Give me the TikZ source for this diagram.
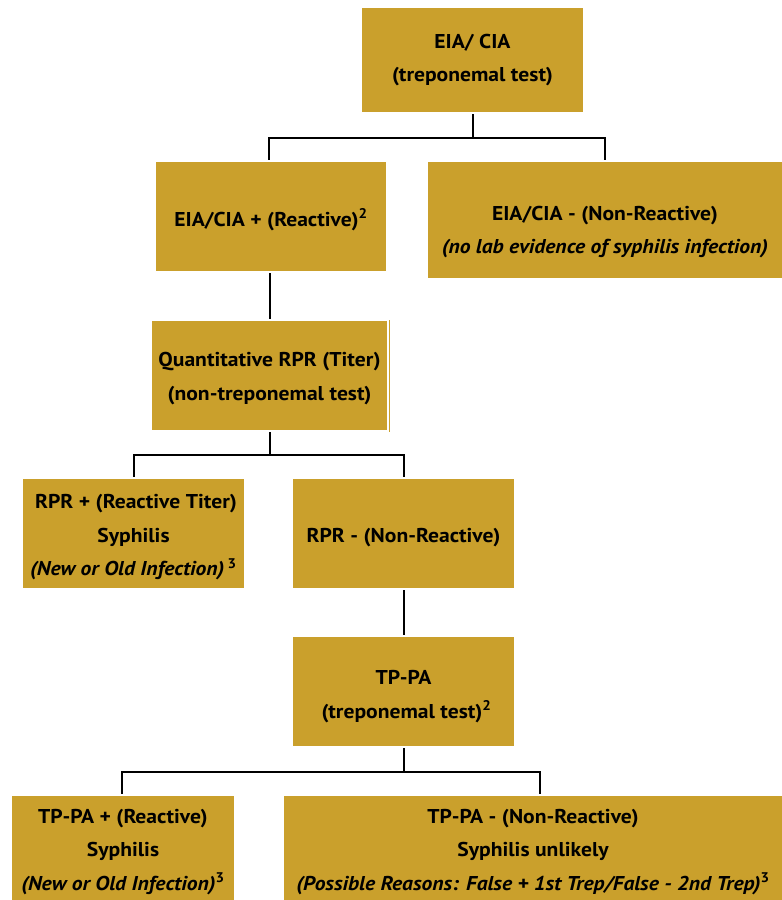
\documentclass[tikz,border=0pt]{standalone}
\usepackage{fontspec}
\setmainfont[FakeStretch=1.08]{PT Sans}
\usetikzlibrary{calc}
\definecolor{gold}{RGB}{202,160,44}
\tikzset{
  txt/.style={align=center, inner sep=0pt,
    font=\fontsize{20}{33.5}\selectfont\bfseries},
  box/.style={fill=gold, draw=none, inner sep=0pt},
  conn/.style={draw=black, line width=2pt},
}
\begin{document}
\begin{tikzpicture}[x=1pt, y=-1pt]
\useasboundingbox (0,0) rectangle (782,900);
% boxes
\node[box, minimum width=221, minimum height=104] (b1) at (472.5,60) {};
\node[txt] (b1t) at (b1.center) {EIA/ CIA\\(treponemal test)};
\node[box, minimum width=230, minimum height=109] (b2) at (271,216.5) {};
\node[txt] (b2t) at ([yshift=-3pt]b2.center) {EIA/CIA + (Reactive)\textsuperscript{2}};
\node[box, minimum width=354, minimum height=116] (b3) at (605,220) {};
\node[txt] (b3t) at (605,232)
  {EIA/CIA - (Non-Reactive)\\\itshape (no lab evidence of syphilis infection)};
\node[box, minimum width=235, minimum height=109] (b4) at (269.5,375.5) {};
\node[txt] (b4t) at ([yshift=-3pt]b4.center) {Quantitative RPR (Titer)\\(non-treponemal test)};
\node[box, minimum width=221, minimum height=109] (b5) at (133.5,533.5) {};
\node[txt] (b5t) at ([yshift=-4pt]b5.center)
  {\hspace*{5pt}RPR + (Reactive Titer)\\Syphilis\\\itshape (New or Old Infection)\,\textsuperscript{\upshape 3}};
\node[box, minimum width=221, minimum height=109] (b6) at (403.5,533.5) {};
\node[txt] (b6t) at ([yshift=-4pt]b6.center) {RPR - (Non-Reactive)};
\node[box, minimum width=221, minimum height=109] (b7) at (403.5,691.5) {};
\node[txt] (b7t) at ([yshift=-5pt]b7.center) {TP-PA\\\hspace*{6pt}(treponemal test)\textsuperscript{2}};
\node[box, minimum width=222, minimum height=104] (b8) at (123,848) {};
\node[txt] (b8t) at ([yshift=-4pt]b8.center)
  {TP-PA + (Reactive)\\Syphilis\\\itshape (New or Old Infection)\textsuperscript{\upshape 3}};
\node[box, minimum width=498, minimum height=104] (b9) at (533,848) {};
\node[txt] (b9t) at ([yshift=-4pt]b9.center)
  {TP-PA - (Non-Reactive)\\Syphilis unlikely\\\itshape (Possible Reasons: False + 1st Trep/False - 2nd Trep)\textsuperscript{\upshape 3}};
% thin gold edge line beside b4
\draw[gold, line width=1pt] (389,320) -- (389,432);
% connectors
\draw[conn, shorten <=2pt] (b1.south) -- ++(0,26) coordinate (j1);
\draw[conn, shorten <=2pt, shorten >=2pt] ([xshift=-2]b2.north) |- (j1) -| (b3.north);
\draw[conn, shorten <=2pt, shorten >=2pt] ([xshift=-1]b2.south) -- ([xshift=-1]b2.south |- b4.north);
\draw[conn, shorten <=2pt] (b4.south) -- ++(0,25) coordinate (j2);
\draw[conn, shorten <=2pt, shorten >=2pt] (b5.north) |- (j2) -| (b6.north);
\draw[conn, shorten <=2pt, shorten >=2pt] (b6.south) -- (b7.north);
\draw[conn, shorten <=2pt] (b7.south) -- ++(0,26) coordinate (j3);
\draw[conn, shorten <=2pt, shorten >=2pt] ([xshift=-1]b8.north) |- (j3) -| ([xshift=7]b9.north);
\end{tikzpicture}
\end{document}
